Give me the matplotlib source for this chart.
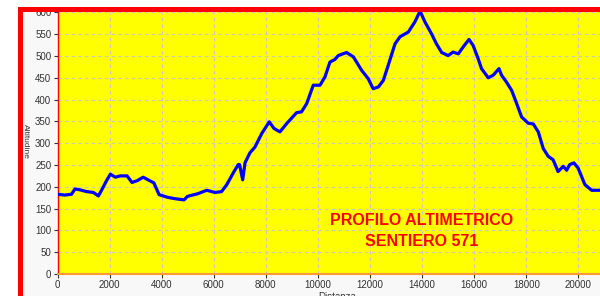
import matplotlib
matplotlib.use("Agg")
import matplotlib.pyplot as plt
from matplotlib.patches import Rectangle

# profilo (distanza in m, quota in m)
distanza = [0, 280, 540, 670, 865, 1120, 1380, 1570, 1700, 1900, 2030, 2220,
            2410, 2670, 2860, 3060, 3290, 3510, 3700, 3900, 4220, 4480, 4860,
            4990, 5380, 5730, 6050, 6300, 6500, 6750, 6940, 6990, 7110, 7200,
            7390, 7580, 7840, 8130, 8310, 8540, 8800, 9180, 9370, 9570, 9820,
            10080, 10270, 10460, 10650, 10780, 11100, 11360, 11680, 11930,
            12120, 12320, 12510, 12700, 12960, 13150, 13470, 13720, 13920,
            14110, 14360, 14550, 14750, 15000, 15190, 15390, 15580, 15800,
            15960, 16150, 16280, 16540, 16730, 16950, 17050, 17240, 17440,
            17630, 17820, 18070, 18270, 18460, 18650, 18840, 19030, 19220,
            19420, 19550, 19670, 19830, 19990, 20120, 20250, 20510, 20830]
altitudine = [183, 181, 183, 195, 193, 189, 187, 179, 193, 216, 229, 222,
              225, 225, 210, 214, 222, 215, 209, 182, 176, 173, 170,
              178, 184, 192, 187, 189, 205, 232, 251, 251, 216, 255,
              278, 291, 322, 349, 334, 326, 345, 370, 372, 391, 433,
              433, 452, 486, 492, 501, 508, 498, 467, 448,
              425, 429, 444, 479, 528, 544, 555, 578, 603,
              578, 551, 528, 508, 501, 509, 505, 521, 538,
              524, 494, 471, 450, 456, 471, 456, 440, 421,
              391, 360, 346, 344, 326, 288, 270, 262, 235,
              247, 238, 251, 255, 243, 224, 205, 192, 192]

titolo = "PROFILO ALTIMETRICO\nSENTIERO 571"
x_ticks = list(range(0, 20001, 2000))
y_ticks = list(range(0, 601, 50))

W, H = 600, 296
fig = plt.figure(figsize=(W / 100, H / 100), dpi=100)
fig.patch.set_facecolor("white")
plt.rcParams["font.family"] = ["Liberation Sans", "DejaVu Sans"]

# pannello grigio chiaro dietro al grafico
fig.patches.append(Rectangle((18 / W, 0), 1 - 18 / W, 1 - 7 / H,
                             transform=fig.transFigure, facecolor="#f8f8f8",
                             edgecolor="none", zorder=-5))

x0, x1, y_top, y_bot = 57.5, 600, 12.4, 274
ax = fig.add_axes([x0 / W, (H - y_bot) / H, (x1 - x0) / W, (y_bot - y_top) / H])
ax.set_facecolor("#ffff00")
ax.plot(distanza, altitudine, color="#0000ff", linewidth=2.3,
        solid_joinstyle="round", zorder=3)

ax.set_xlim(0, 20830)
ax.set_ylim(0, 600)
ax.set_xticks(x_ticks)
ax.set_yticks(y_ticks)
ax.tick_params(labelsize=7, colors="#333333", length=3, width=0.8, pad=1.5)
ax.grid(True, color="#c8c8c8", linestyle=(0, (3, 3)), linewidth=0.8)
ax.set_axisbelow(True)

for s in ("top", "right"):
    ax.spines[s].set_visible(False)
ax.spines["left"].set_color("#ff0000")
ax.spines["left"].set_linewidth(1.0)
ax.spines["bottom"].set_color("#ff9933")
ax.spines["bottom"].set_linewidth(1.5)

ax.set_xlabel("Distanza", fontsize=7, color="#333333")
ax.xaxis.set_label_coords((337 - x0) / (x1 - x0), -(292 - y_bot) / (y_bot - y_top))
ax.xaxis.label.set_va("top")
ax.set_ylabel("Altitudine", fontsize=6, color="#333333", rotation=270)
ax.yaxis.set_label_coords(-(x0 - 25) / (x1 - x0), (y_bot - 141) / (y_bot - y_top))
ax.yaxis.label.set_va("center")

ax.text(422, H - 231, titolo, transform=None, ha="center", va="center",
        fontsize=11.5, fontweight="bold", color="#ff0000", linespacing=1.45)

# bordo rosso a sinistra e in alto
fig.patches.append(Rectangle((18 / W, 0), 5 / W, 1 - 7 / H,
                             transform=fig.transFigure, facecolor="#ff0000",
                             edgecolor="none", zorder=10))
fig.patches.append(Rectangle((18 / W, 1 - 12 / H), 1 - 18 / W, 5 / H,
                             transform=fig.transFigure, facecolor="#ff0000",
                             edgecolor="none", zorder=10))

fig.savefig("out.png", dpi=100)
